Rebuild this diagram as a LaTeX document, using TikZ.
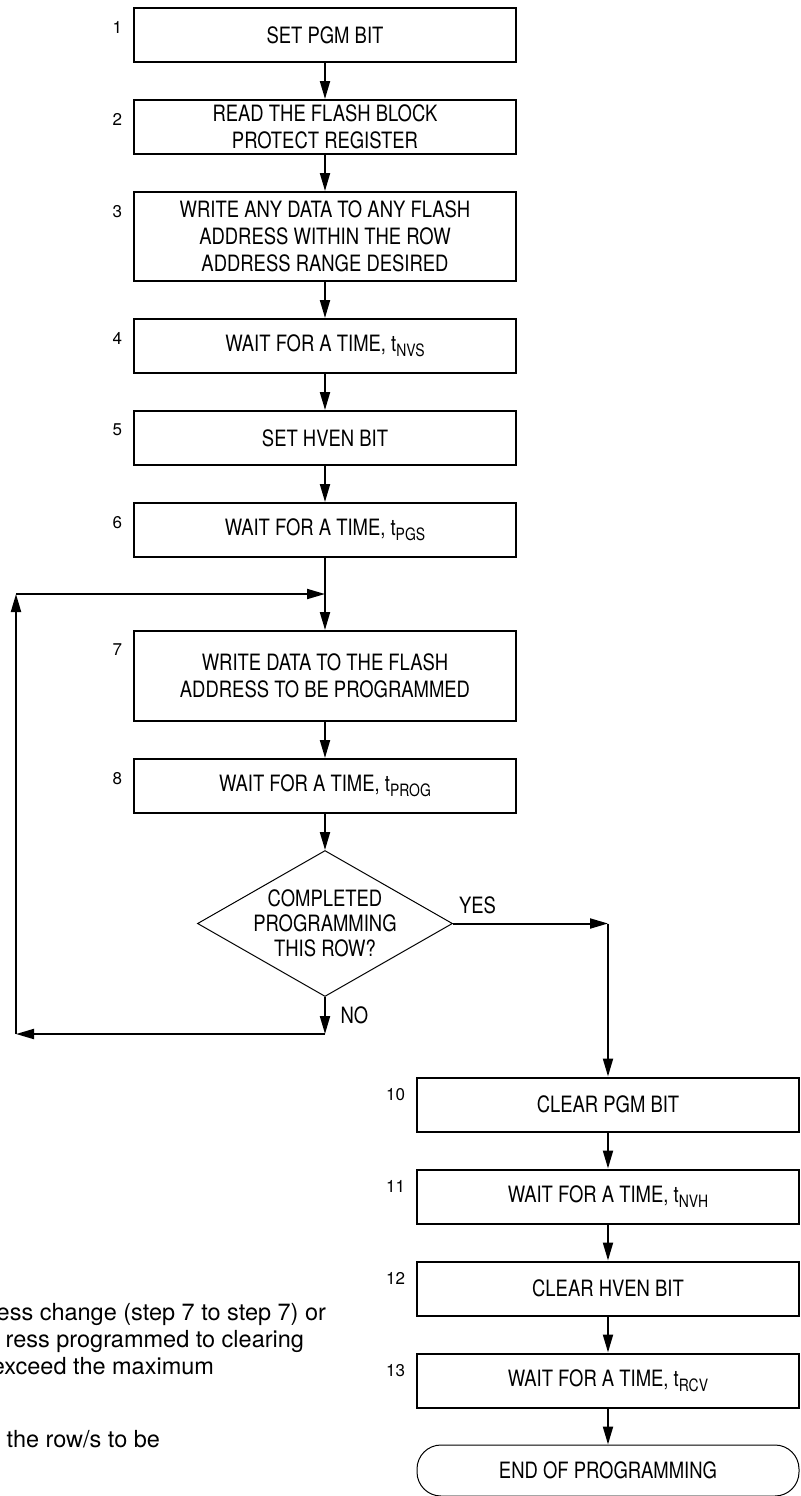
\documentclass[tikz,border=0pt]{standalone}
\usepackage{fontspec}
\setmainfont[FakeStretch=0.82]{TeX Gyre Heros}
\newfontfamily\plainsans{TeX Gyre Heros}
\usetikzlibrary{positioning,shapes.geometric,arrows.meta}

\newcommand{\tsub}[1]{t\raisebox{-0.45ex}{\fontsize{8.5pt}{8.5pt}\selectfont #1}}

\tikzset{
  stepbox/.style={draw, line width=1pt, minimum width=191pt, minimum height=27pt,
    align=center, inner sep=2pt, font=\fontsize{11.25pt}{13.4pt}\selectfont},
  num/.style={inner sep=0pt, font=\plainsans\fontsize{8.5pt}{10pt}\selectfont},
  note/.style={inner sep=0pt, anchor=base east, font=\plainsans\fontsize{11.75pt}{14pt}\selectfont},
  lbl/.style={inner sep=0pt, font=\fontsize{11.25pt}{13.4pt}\selectfont}
}

\begin{document}
\begin{tikzpicture}[x=0.5pt, y=-0.5pt, node distance=18pt, line width=1pt,
    >={Triangle[length=9pt,width=5pt]}]
    \useasboundingbox (0,0) rectangle (801,1496);
    \clip (0,0) rectangle (801,1496);

    \node (s1) [stepbox] at (325,35) {SET PGM BIT};
    \node (s2) [stepbox, below=of s1] {READ THE FLASH BLOCK\\PROTECT REGISTER};
    \node (s3) [stepbox, minimum height=44.5pt, below=of s2] {WRITE ANY DATA TO ANY FLASH\\ADDRESS WITHIN THE ROW\\ADDRESS RANGE DESIRED};
    \node (s4) [stepbox, below=of s3] {WAIT FOR A TIME, \tsub{NVS}};
    \node (s5) [stepbox, below=of s4] {SET HVEN BIT};
    \node (s6) [stepbox, below=of s5] {WAIT FOR A TIME, \tsub{PGS}};
    \coordinate [below=of s6] (j7);
    \node (s7) [stepbox, minimum height=45pt, below=of j7] {WRITE DATA TO THE FLASH\\ADDRESS TO BE PROGRAMMED};
    \node (s8) [stepbox, below=of s7] {WAIT FOR A TIME, \tsub{PROG}};
    \node (d9) [diamond, draw, line width=0.5pt, aspect=1.75, minimum width=127.5pt, minimum height=73pt,
      inner sep=-1.5pt, align=center, font=\fontsize{11.25pt}{12.5pt}\selectfont, below=of s8]
      {COMPLETED\\PROGRAMMING\\THIS ROW?};

    \node (s10) [stepbox] at (608,1104.5) {CLEAR PGM BIT};
    \node (s11) [stepbox, below=of s10] {WAIT FOR A TIME, \tsub{NVH}};
    \node (s12) [stepbox, below=of s11] {CLEAR HVEN BIT};
    \node (s13) [stepbox, below=of s12] {WAIT FOR A TIME, \tsub{RCV}};
    \node (e14) [stepbox, rounded corners=12pt, line width=0.5pt, minimum height=25.5pt, below=of s13] {END OF PROGRAMMING};

    % step numbers
    \node (n1) [num, below left=6.5pt and 5pt of s1.north west] {1};
    \node (n2) [num, below left=6.5pt and 5pt of s2.north west] {2};
    \node (n3) [num, below left=6.5pt and 5pt of s3.north west] {3};
    \node (n4) [num, below left=6.5pt and 5pt of s4.north west] {4};
    \node (n5) [num, below left=6.5pt and 5pt of s5.north west] {5};
    \node (n6) [num, below left=6.5pt and 5pt of s6.north west] {6};
    \node (n7) [num, below left=6.5pt and 5pt of s7.north west] {7};
    \node (n8) [num, below left=6.5pt and 5pt of s8.north west] {8};
    \node (n10) [num, below left=5.5pt and 5pt of s10.north west] {10};
    \node (n11) [num, below left=5.5pt and 5pt of s11.north west] {11};
    \node (n12) [num, below left=5.5pt and 5pt of s12.north west] {12};
    \node (n13) [num, below left=5.5pt and 5pt of s13.north west] {13};

    % loop corners
    \coordinate [below=18.5pt of d9.south] (noc);
    \coordinate (lx) at (16,0);
    \coordinate (lb) at (noc -| lx);
    \coordinate (lt) at (j7 -| lx);
    \coordinate (yc) at (d9.east -| s10);

    \node (yes) [lbl] at (477.5,905.5) {YES};
    \node (no) [lbl] at (354.5,1015.5) {NO};

    \path[->] (s1) edge (s2);
    \path[->] (s2) edge (s3);
    \path[->] (s3) edge (s4);
    \path[->] (s4) edge (s5);
    \path[->] (s5) edge (s6);
    \draw (s6) -- (j7);
    \path[->] (j7) edge (s7);
    \path[->] (s7) edge (s8);
    \path[->] (s8) edge (d9);
    \path[->] (d9) edge (noc);
    \path[->] (noc) edge (lb);
    \path[->] (lb) edge (lt);
    \path[->] (lt) edge (j7);
    \path[->] (d9) edge (yc);
    \path[->] (yc) edge (s10);
    \path[->] (s10) edge (s11);
    \path[->] (s11) edge (s12);
    \path[->] (s12) edge (s13);
    \path[->] (s13) edge (e14);

    % note text, cut at the left edge
    \node (t1) [note] at (327,1320.5) {ess change (step 7 to step 7) or};
    \node (t2) [note] at (305,1347.5) {ress programmed to clearing};
    \node (t3) [note] at (215,1374) {exceed the maximum};
    \node (t4) [note] at (161,1447) {the row/s to be};
  \end{tikzpicture}
\end{document}
